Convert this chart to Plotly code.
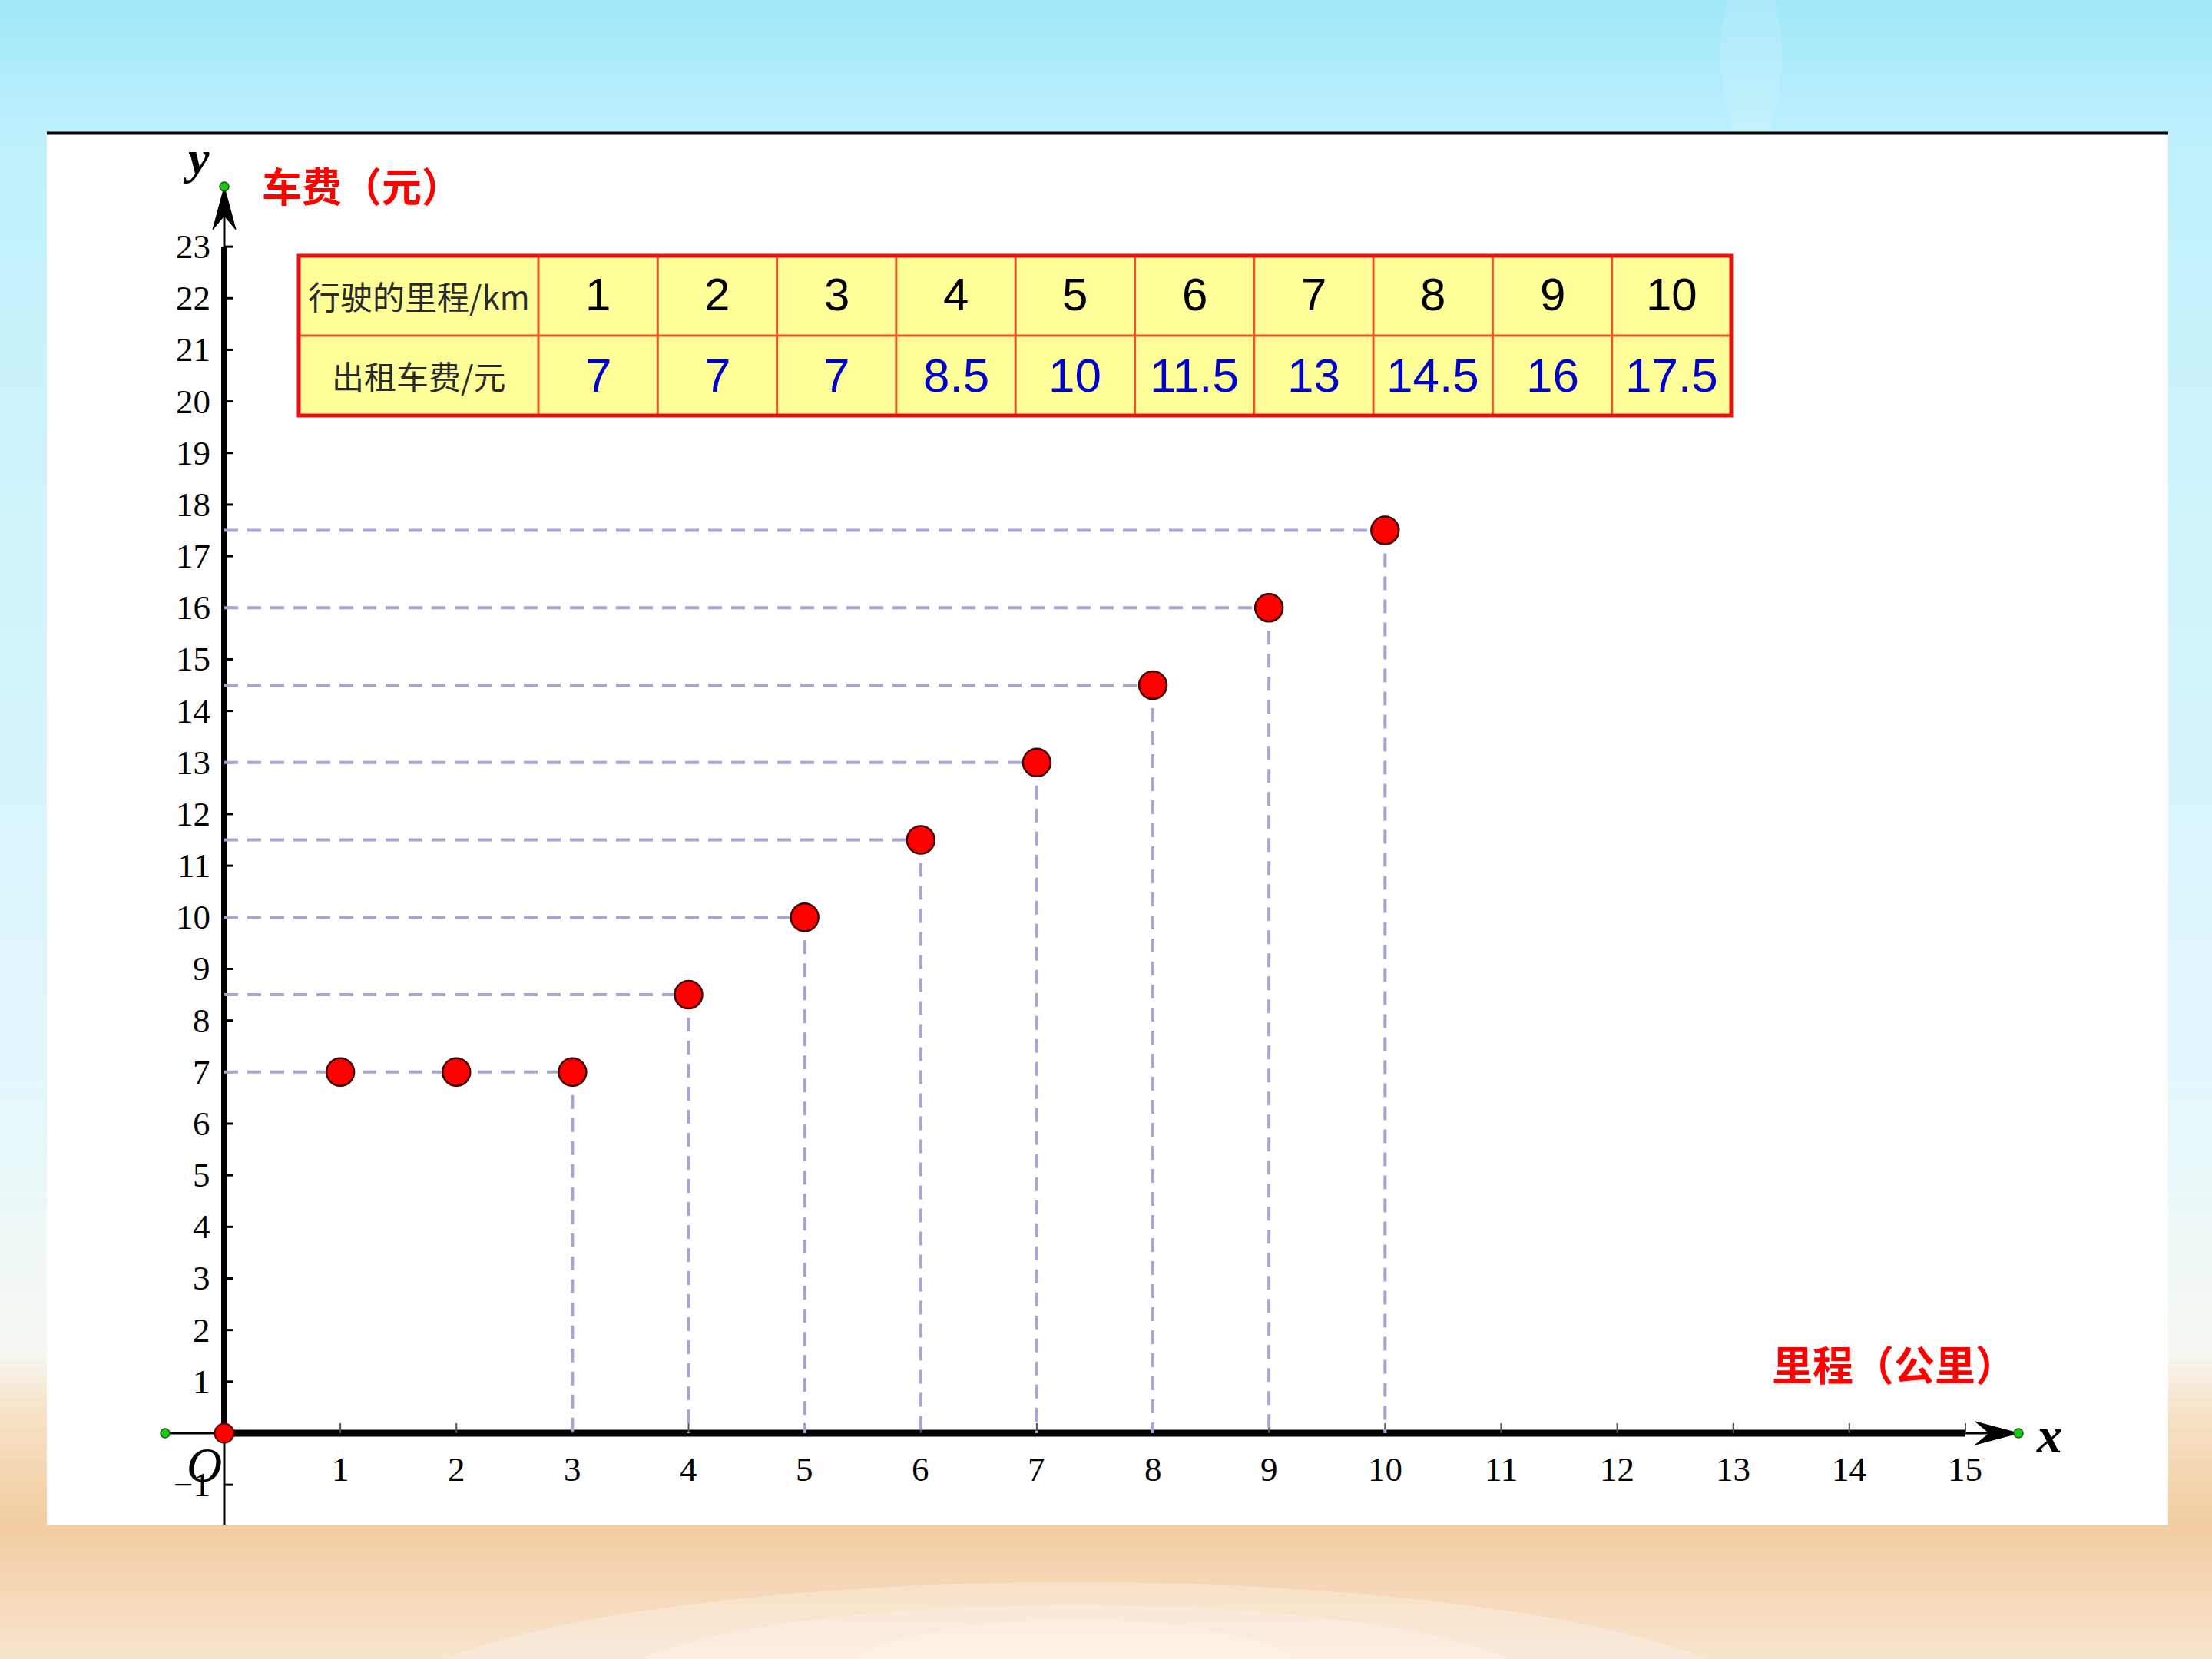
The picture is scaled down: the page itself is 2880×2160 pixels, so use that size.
import plotly.graph_objects as go

# ---------------- data ----------------
distance_km = [1, 2, 3, 4, 5, 6, 7, 8, 9, 10]
fare_yuan = [7, 7, 7, 8.5, 10, 11.5, 13, 14.5, 16, 17.5]
x_tick_values = list(range(1, 16))
y_tick_values = [-1] + list(range(1, 24))
row_label_distance = "行驶的里程/km"
row_label_fare = "出租车费/元"
y_axis_title = "车费（元）"
x_axis_title = "里程（公里）"
x_axis_end = 15
y_axis_end = 23

# ---------------- geometry (pixels) ----------------
W, H = 2880, 2160
X0_PX, Y0_PX = 292, 1866
UX, UY = 151.13, 67.17
X_RANGE = [-X0_PX / UX, (W - X0_PX) / UX]
Y_RANGE = [-(H - Y0_PX) / UY, Y0_PX / UY]


def dx(p):
    return p / UX


def dy(p):
    return p / UY


def PX(x):
    return x / W


def PY(y):
    return 1 - y / H


X_TIP = (2628 - X0_PX) / UX
X_LEFT = (215 - X0_PX) / UX
Y_TIP = (Y0_PX - 243) / UY
Y_BOTTOM = -(1985 - Y0_PX) / UY

shapes = []


def hex_col(c):
    return "rgb(%d,%d,%d)" % c


# ---------------- background ----------------
bg_stops = [(0, (160, 232, 250)), (180, (190, 240, 252)), (700, (208, 244, 252)),
            (1400, (226, 247, 252)), (1760, (246, 248, 242)), (1840, (246, 226, 198)),
            (1990, (242, 204, 160)), (2050, (244, 213, 178)), (2160, (248, 228, 206))]
step = 10
for yy in range(0, H, step):
    yc = yy + step / 2
    for (ya, ca), (yb, cb) in zip(bg_stops[:-1], bg_stops[1:]):
        if ya <= yc <= yb:
            t = (yc - ya) / (yb - ya)
            col = tuple(int(round(ca[i] + (cb[i] - ca[i]) * t)) for i in range(3))
            break
    shapes.append(dict(type="rect", xref="paper", yref="paper", x0=0, x1=1,
                       y0=PY(yy + step + 1), y1=PY(yy), fillcolor=hex_col(col),
                       line=dict(width=0), layer="below"))
# soft whitish patches in the sand
for (a, b, c, d, op) in [(500, 2300, 2060, 2400, 0.30), (800, 2000, 2090, 2300, 0.30),
                          (1100, 1700, 2110, 2250, 0.25)]:
    shapes.append(dict(type="circle", xref="paper", yref="paper", x0=PX(a), x1=PX(b),
                       y0=PY(d), y1=PY(c), fillcolor="rgba(255,250,244,%.2f)" % op,
                       line=dict(width=0), layer="below"))
# faint sheen in the sky
shapes.append(dict(type="circle", xref="paper", yref="paper", x0=PX(2240), x1=PX(2320),
                   y0=PY(190), y1=PY(-40), fillcolor="rgba(255,255,255,0.12)",
                   line=dict(width=0), layer="below"))

# white panel and black top rule
shapes.append(dict(type="rect", xref="paper", yref="paper", x0=PX(61), x1=PX(2823),
                   y0=PY(1986), y1=PY(174), fillcolor="white", line=dict(width=0), layer="below"))
shapes.append(dict(type="line", xref="paper", yref="paper", x0=PX(61), x1=PX(2823),
                   y0=PY(173.5), y1=PY(173.5), line=dict(color="black", width=4), layer="below"))

# ---------------- axes ----------------
def axline(x0, y0, x1, y1, w):
    shapes.append(dict(type="line", xref="x", yref="y", x0=x0, y0=y0, x1=x1, y1=y1,
                       line=dict(color="black", width=w), layer="below"))


axline(0, 0, 0, y_axis_end, 8)
axline(0, y_axis_end, 0, Y_TIP - dy(20), 3)
axline(0, 0, 0, Y_BOTTOM, 3)
axline(0, 0, x_axis_end, 0, 9)
axline(x_axis_end, 0, X_TIP - dx(20), 0, 3)
axline(X_LEFT, 0, 0, 0, 3)

# arrow heads
yp = [(0, Y_TIP), (-dx(15), Y_TIP - dy(56)), (0, Y_TIP - dy(38)), (dx(15), Y_TIP - dy(56))]
xp = [(X_TIP, 0), (X_TIP - dx(56), dy(15)), (X_TIP - dx(38), 0), (X_TIP - dx(56), -dy(15))]
for pts in (yp, xp):
    path = "M " + " L ".join("%f,%f" % p for p in pts) + " Z"
    shapes.append(dict(type="path", xref="x", yref="y", path=path, fillcolor="black",
                       line=dict(color="black", width=1), layer="below"))

# ticks
for t in y_tick_values:
    shapes.append(dict(type="line", xref="x", yref="y", xsizemode="pixel", xanchor=0,
                       x0=0, x1=12, y0=t, y1=t, line=dict(color="black", width=3), layer="below"))
for t in x_tick_values:
    shapes.append(dict(type="line", xref="x", yref="y", ysizemode="pixel", yanchor=0,
                       x0=t, x1=t, y0=0, y1=13, line=dict(color="#555555", width=2), layer="below"))

# ---------------- table ----------------
T_LEFT, T_FIRST_W, T_COL_W = 389, 312, 155.3
T_TOP, T_ROW_H = 333, 104
n_cols = len(distance_km)
T_RIGHT = T_LEFT + T_FIRST_W + n_cols * T_COL_W
T_BOTTOM = T_TOP + 2 * T_ROW_H

shapes.append(dict(type="rect", xref="paper", yref="paper", x0=PX(T_LEFT), x1=PX(T_RIGHT),
                   y0=PY(T_BOTTOM), y1=PY(T_TOP), fillcolor="#FFFF99", line=dict(width=0),
                   layer="below"))
inner = dict(color="#E5582B", width=3)
shapes.append(dict(type="line", xref="paper", yref="paper", x0=PX(T_LEFT), x1=PX(T_RIGHT),
                   y0=PY(T_TOP + T_ROW_H), y1=PY(T_TOP + T_ROW_H), line=inner, layer="below"))
for i in range(n_cols):
    xx = T_LEFT + T_FIRST_W + i * T_COL_W
    shapes.append(dict(type="line", xref="paper", yref="paper", x0=PX(xx), x1=PX(xx),
                       y0=PY(T_BOTTOM), y1=PY(T_TOP), line=inner, layer="below"))
shapes.append(dict(type="rect", xref="paper", yref="paper", x0=PX(T_LEFT), x1=PX(T_RIGHT),
                   y0=PY(T_BOTTOM), y1=PY(T_TOP), fillcolor="rgba(0,0,0,0)",
                   line=dict(color="#E81212", width=5), layer="below"))

annotations = []
cjk_font = "Noto Sans CJK SC, Noto Sans CJK JP, sans-serif"
row1_y = T_TOP + T_ROW_H / 2
row2_y = T_TOP + 1.5 * T_ROW_H
first_cx = T_LEFT + T_FIRST_W / 2
annotations.append(dict(xref="paper", yref="paper", x=PX(first_cx), y=PY(row1_y),
                        text=row_label_distance, showarrow=False, xanchor="center", yanchor="middle",
                        font=dict(family=cjk_font, size=42, color="#2A2A2A")))
annotations.append(dict(xref="paper", yref="paper", x=PX(first_cx), y=PY(row2_y),
                        text=row_label_fare, showarrow=False, xanchor="center", yanchor="middle",
                        font=dict(family=cjk_font, size=42, color="#2A2A2A")))
for i, (d, f) in enumerate(zip(distance_km, fare_yuan)):
    cx = T_LEFT + T_FIRST_W + (i + 0.5) * T_COL_W
    annotations.append(dict(xref="paper", yref="paper", x=PX(cx), y=PY(row1_y - 2),
                            text=str(d), showarrow=False, xanchor="center", yanchor="middle",
                            font=dict(family="Liberation Sans Narrow, Arial Narrow, Liberation Sans",
                                      size=60, color="black")))
    annotations.append(dict(xref="paper", yref="paper", x=PX(cx), y=PY(row2_y),
                            text=f"{f:g}", showarrow=False, xanchor="center", yanchor="middle",
                            font=dict(family="Liberation Sans, Arial", size=62, color="#0000CC")))

# ---------------- tick labels ----------------
tick_font = dict(family="Liberation Serif, Times New Roman, serif", size=45, color="black")
for t in y_tick_values:
    txt = str(t) if t >= 0 else "\u2212" + str(-t)
    annotations.append(dict(xref="x", yref="y", x=0, y=t, xshift=-16, text=txt,
                            showarrow=False, xanchor="right", yanchor="middle", font=tick_font))
for t in x_tick_values:
    annotations.append(dict(xref="x", yref="y", x=t, y=0, yshift=-47, text=str(t),
                            showarrow=False, xanchor="center", yanchor="middle", font=tick_font))

# axis letters and titles
annotations.append(dict(xref="x", yref="y", x=0, y=0, xshift=-26, yshift=-41, text="<i>O</i>",
                        showarrow=False, xanchor="center", yanchor="middle",
                        font=dict(family="Liberation Serif, serif", size=64, color="black")))
annotations.append(dict(xref="x", yref="y", x=X_TIP, y=0, xshift=40, yshift=-2, text="<b><i>x</i></b>",
                        showarrow=False, xanchor="center", yanchor="middle",
                        font=dict(family="Liberation Serif, serif", size=66, color="black")))
annotations.append(dict(xref="x", yref="y", x=0, y=Y_TIP, xshift=-37, yshift=38, text="<b><i>y</i></b>",
                        showarrow=False, xanchor="center", yanchor="middle",
                        font=dict(family="Liberation Serif, serif", size=62, color="black")))
annotations.append(dict(xref="x", yref="y", x=0, y=Y_TIP, xshift=179, yshift=3, text=y_axis_title,
                        showarrow=False, xanchor="center", yanchor="middle",
                        font=dict(family=cjk_font, size=52, color="#FF0000", weight="bold")))
annotations.append(dict(xref="paper", yref="paper", x=PX(2466), y=PY(1775), text=x_axis_title,
                        showarrow=False, xanchor="center", yanchor="middle",
                        font=dict(family=cjk_font, size=53, color="#FF0000", weight="bold")))

# ---------------- traces ----------------
fig = go.Figure()

# dashed guide lines: one horizontal per fare level (to last point at that level), vertical from it
gx, gy = [], []
for level in sorted(set(fare_yuan)):
    xmax = max(d for d, f in zip(distance_km, fare_yuan) if f == level)
    gx += [0, xmax, None, xmax, xmax, None]
    gy += [level, level, None, level, 0, None]
fig.add_trace(go.Scatter(x=gx, y=gy, mode="lines", hoverinfo="skip",
                         line=dict(color="#A6A6D4", width=4, dash="18px,12px")))

# green endpoints of axes
fig.add_trace(go.Scatter(x=[0, X_TIP, X_LEFT], y=[Y_TIP, 0, 0], mode="markers", hoverinfo="skip",
                         marker=dict(size=12, color="#11CC11", line=dict(color="#225522", width=1.5))))
# origin
fig.add_trace(go.Scatter(x=[0], y=[0], mode="markers", hoverinfo="skip",
                         marker=dict(size=25, color="#FF0000", line=dict(color="#550000", width=2))))
# data points
fig.add_trace(go.Scatter(x=distance_km, y=fare_yuan, mode="markers",
                         marker=dict(size=36, color="#FF0000", line=dict(color="#3A0000", width=2.5))))

fig.update_layout(
    width=W, height=H, autosize=False,
    margin=dict(l=0, r=0, t=0, b=0, pad=0),
    paper_bgcolor="rgb(200,240,252)", plot_bgcolor="rgba(0,0,0,0)",
    showlegend=False,
    xaxis=dict(range=X_RANGE, visible=False, fixedrange=True),
    yaxis=dict(range=Y_RANGE, visible=False, fixedrange=True),
    shapes=shapes, annotations=annotations,
)

fig.write_html("out.html", config={"displayModeBar": False},
               post_script="document.body.style.margin='0';document.body.style.padding='0';"
                           "document.body.style.overflow='hidden';")
